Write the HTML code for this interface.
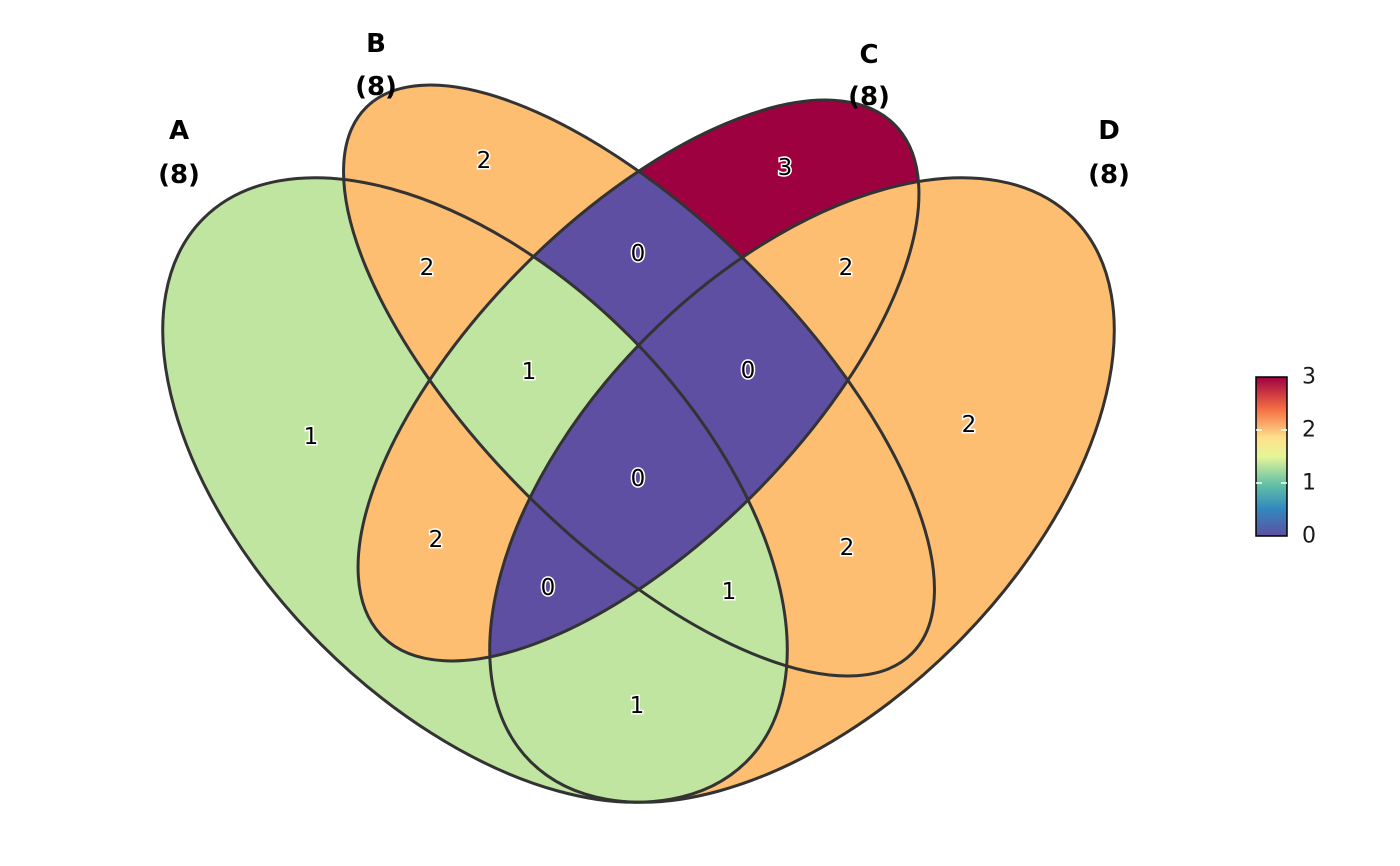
<!DOCTYPE html>
<html><head><meta charset="utf-8"><style>html,body{margin:0;padding:0;background:#fff;width:1400px;height:866px;overflow:hidden}svg{display:block;position:absolute;left:0;top:0}</style></head>
<body>
<svg width="1400" height="866" viewBox="0 0 1400 866" xmlns="http://www.w3.org/2000/svg" font-family="DejaVu Sans, Liberation Sans, sans-serif">
<defs>
<ellipse id="eA" cx="475" cy="490" rx="384" ry="218" transform="rotate(45 475 490)"/>
<ellipse id="eD" cx="802" cy="490" rx="384" ry="218" transform="rotate(-45 802 490)"/>
<ellipse id="eB" cx="639" cy="380.5" rx="386" ry="160" transform="rotate(45 639 380.5)"/>
<ellipse id="eC" cx="638.5" cy="380.5" rx="362" ry="162" transform="rotate(-45 638.5 380.5)"/>
<clipPath id="cA"><use href="#eA"/></clipPath>
<clipPath id="cB"><use href="#eB"/></clipPath>
<clipPath id="cC"><use href="#eC"/></clipPath>
<clipPath id="cD"><use href="#eD"/></clipPath>
<linearGradient id="lg" x1="0" y1="1" x2="0" y2="0">
<stop offset="0" stop-color="#5E4FA2"/><stop offset="0.17" stop-color="#3288BD"/><stop offset="0.33" stop-color="#66C2A5"/><stop offset="0.5" stop-color="#E6F598"/><stop offset="0.62" stop-color="#FEE08B"/><stop offset="0.8" stop-color="#F46D43"/><stop offset="1" stop-color="#9E0142"/>
</linearGradient>
</defs>
<g stroke="none">
<use href="#eA" fill="#C0E5A0"/>
<use href="#eD" fill="#FDBE71"/>
<use href="#eB" fill="#FDBE71"/>
<use href="#eC" fill="#9E013F"/>
<g clip-path="url(#cA)"><use href="#eB" fill="#FDBE71"/><use href="#eC" fill="#FDBE71"/><use href="#eD" fill="#C0E5A0"/></g>
<g clip-path="url(#cB)"><use href="#eC" fill="#5E4FA2"/><use href="#eD" fill="#FDBE71"/></g>
<g clip-path="url(#cC)"><use href="#eD" fill="#FDBE71"/></g>
<g clip-path="url(#cA)"><g clip-path="url(#cB)"><use href="#eC" fill="#C0E5A0"/><use href="#eD" fill="#C0E5A0"/></g></g>
<g clip-path="url(#cA)"><g clip-path="url(#cC)"><use href="#eD" fill="#5E4FA2"/></g></g>
<g clip-path="url(#cB)"><g clip-path="url(#cC)"><use href="#eD" fill="#5E4FA2"/></g></g>
<g clip-path="url(#cA)"><g clip-path="url(#cB)"><g clip-path="url(#cC)"><use href="#eD" fill="#5E4FA2"/></g></g></g>
</g>
<g fill="none" stroke="#333" stroke-width="3">
<use href="#eA"/><use href="#eB"/><use href="#eC"/><use href="#eD"/>
</g>
<g font-size="23" text-anchor="middle" fill="#000" stroke="#fff" stroke-width="3" paint-order="stroke" dominant-baseline="central">
<text x="311" y="437">1</text><text x="484" y="161">2</text><text x="785" y="168">3</text><text x="969" y="425">2</text>
<text x="427" y="268">2</text><text x="638" y="254">0</text><text x="846" y="268">2</text>
<text x="529" y="372">1</text><text x="748" y="371">0</text><text x="638" y="479">0</text>
<text x="436" y="540">2</text><text x="847" y="548">2</text><text x="548" y="588">0</text><text x="729" y="592">1</text><text x="637" y="706">1</text>
</g>
<g font-size="26" font-weight="bold" text-anchor="middle" fill="#000" dominant-baseline="central">
<text x="179" y="131">A</text><text x="179" y="175">(8)</text>
<text x="376" y="44">B</text><text x="376" y="87">(8)</text>
<text x="869" y="55">C</text><text x="869" y="97">(8)</text>
<text x="1109" y="131">D</text><text x="1109" y="175">(8)</text>
</g>
<rect x="1256" y="377" width="31" height="159" fill="url(#lg)" stroke="#000" stroke-width="1.5"/>
<g stroke="#fff" stroke-width="1.5">
<line x1="1256" y1="430" x2="1262" y2="430"/><line x1="1281" y1="430" x2="1287" y2="430"/>
<line x1="1256" y1="483" x2="1262" y2="483"/><line x1="1281" y1="483" x2="1287" y2="483"/>
</g>
<g font-size="22" fill="#1a1a1a" dominant-baseline="central">
<text x="1302" y="377">3</text><text x="1302" y="430">2</text><text x="1302" y="483">1</text><text x="1302" y="536">0</text>
</g>
</svg>
</body></html>
